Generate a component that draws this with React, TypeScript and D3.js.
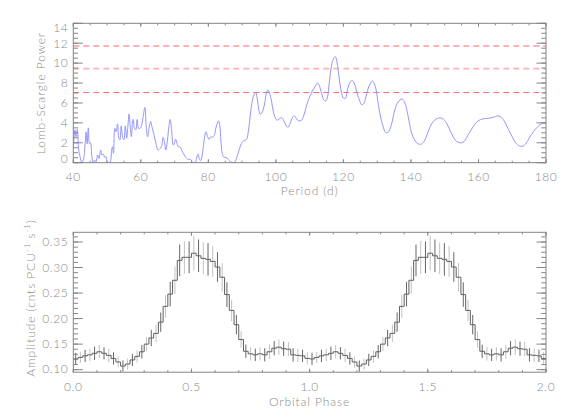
import React, { useEffect, useRef } from "react";
import * as d3 from "d3";

// Lomb-Scargle periodogram (top panel)
const periods = [
  40.0, 40.5, 40.8, 41.2, 41.6, 42.0, 42.5, 43.0, 43.5, 43.8, 44.1, 44.45, 44.8, 45.1, 45.5, 45.9,
  46.3, 46.7, 47.2, 47.6, 48.1, 48.5, 48.9, 49.3, 49.7, 50.1, 50.85, 51.35, 51.6, 51.9, 52.3, 52.7,
  53.1, 53.5, 53.8, 54.2, 54.6, 55.0, 55.4, 55.8, 56.2, 56.5, 56.9, 57.2, 57.5, 57.75, 58.1, 58.5,
  58.9, 59.3, 59.7, 60.1, 60.6, 61.2, 61.6, 62.0, 62.5, 62.9, 63.3, 63.9, 64.5, 65.1, 65.7, 66.1,
  66.6, 67.0, 67.4, 67.9, 68.3, 68.7, 69.1, 69.6, 69.9, 70.3, 70.7, 71.1, 71.6, 72.1, 72.55, 73.2,
  74.0, 74.7, 75.5, 76.1, 76.5, 76.9, 77.3, 77.7, 78.1, 78.5, 78.9, 79.3, 79.8, 80.25, 80.7, 81.2,
  81.8, 82.2, 82.6, 83.0, 83.4, 83.7, 84.1, 84.6, 85.2, 85.9, 86.6, 87.35, 87.9, 88.5, 89.1, 89.8,
  90.5, 91.3, 91.9, 92.5, 93.0, 93.5, 94.0, 94.4, 94.85, 95.3, 95.75, 96.2, 96.7, 97.2, 97.6, 98.1,
  98.7, 99.2, 99.7, 100.2, 100.7, 101.4, 101.9, 102.5, 103.1, 103.6, 104.1, 104.6, 105.3, 105.8,
  106.3, 107.0, 107.6, 108.2, 108.6, 109.3, 110.0, 110.8, 111.5, 112.3, 112.8, 113.5, 114.2, 114.8,
  115.3, 115.8, 116.5, 117.0, 117.6, 118.1, 118.7, 119.4, 120.0, 120.6, 121.2, 122.0, 122.7, 123.3,
  123.8, 124.7, 125.5, 126.1, 126.8, 127.6, 128.6, 129.3, 129.8, 130.6, 131.6, 132.5, 133.2, 134.2,
  135.2, 136.2, 137.4, 138.2, 139.2, 140.1, 141.1, 142.1, 143.1, 144.1, 145.1, 146.1, 147.3, 148.5,
  149.5, 150.5, 151.5, 152.5, 153.5, 155.0, 155.9, 157.2, 158.4, 159.9, 161.3, 162.8, 164.3, 165.8,
  166.8, 167.8, 168.7, 169.7, 171.0, 172.2, 173.2, 174.4, 175.6, 177.1, 178.6, 180.0
];
const powers = [
  1.6, 3.3, 2.6, 3.35, 1.3, 0.6, 0.0, 0.3, 1.9, 3.1, 1.9, 3.5, 1.9, 2.0, 0.6, 0.0,
  0.27, 0.0, 0.77, 0.43, 1.27, 0.77, 0.87, 0.54, 0.6, 0.0, 0.0, 1.27, 1.6, 0.93, 3.45, 3.1,
  3.9, 2.45, 2.3, 3.7, 2.6, 2.3, 3.7, 2.45, 3.8, 4.9, 3.45, 2.6, 3.95, 4.35, 3.45, 3.3,
  4.35, 3.45, 3.45, 3.6, 4.45, 5.56, 3.6, 2.6, 3.6, 4.15, 3.6, 2.8, 1.9, 1.27, 1.44, 1.6,
  2.55, 2.1, 1.27, 2.28, 3.6, 4.35, 3.3, 1.77, 1.94, 2.34, 1.94, 1.6, 1.6, 1.27, 0.94, 0.6,
  0.33, 0.33, 0.0, 0.0, 0.43, 0.87, 0.43, 0.2, 0.6, 1.6, 2.6, 3.1, 2.6, 2.34, 2.6, 2.55,
  2.8, 3.45, 3.9, 4.2, 3.7, 2.28, 0.94, 0.54, 0.54, 0.33, 0.1, 0.0, 0.1, 0.6, 1.27, 1.94,
  2.2, 2.35, 3.3, 5.0, 6.2, 6.8, 7.06, 6.6, 5.5, 4.9, 4.96, 5.3, 6.0, 7.0, 7.3, 7.0,
  6.2, 5.2, 4.6, 4.3, 4.3, 4.5, 4.5, 4.1, 3.7, 3.55, 3.85, 4.3, 4.7, 4.6,
  4.3, 4.2, 4.25, 4.7, 5.1, 6.0, 6.6, 7.2, 7.6, 8.0, 7.8, 7.0, 6.3, 6.2,
  6.6, 8.0, 9.8, 10.4, 10.65, 10.1, 8.6, 7.1, 6.5, 6.45, 7.3, 8.1, 8.25, 7.9,
  7.3, 6.3, 5.8, 6.0, 6.8, 7.7, 8.2, 7.8, 7.1, 5.3, 3.8, 3.05, 3.05, 3.8,
  5.3, 6.1, 6.4, 6.0, 4.6, 3.1, 2.28, 1.9, 1.88, 2.28, 3.1, 3.9, 4.35, 4.5,
  4.4, 4.0, 3.3, 2.6, 2.14, 2.0, 2.2, 2.95, 3.6, 4.2, 4.4, 4.45, 4.55, 4.7,
  4.55, 4.1, 3.45, 2.8, 2.0, 1.67, 1.67, 2.1, 2.8, 3.45, 3.9, 4.0
];
const significance = [11.72, 9.45, 7.05];
const significanceColors = ["#ffb2b2", "#ffb2b2", "#ff6e6e"];
const significanceWidths = [1.8, 1.8, 1.1];

// folded light curve (bottom panel), one cycle of 50 bins, drawn twice
const amplitude = [
  0.121, 0.124, 0.127, 0.129, 0.132, 0.135, 0.132, 0.128, 0.122, 0.115,
  0.107, 0.111, 0.119, 0.126, 0.135, 0.15, 0.162, 0.171, 0.193, 0.224,
  0.248, 0.275, 0.314, 0.32, 0.32, 0.328, 0.323, 0.318, 0.316, 0.312,
  0.301, 0.281, 0.247, 0.216, 0.188, 0.159, 0.136, 0.131, 0.129, 0.131,
  0.129, 0.135, 0.142, 0.144, 0.141, 0.14, 0.129, 0.128, 0.127, 0.122
];
const amplitudeErr = [
  0.012, 0.011, 0.012, 0.012, 0.013, 0.013, 0.012, 0.013, 0.012, 0.011,
  0.011, 0.011, 0.012, 0.012, 0.013, 0.014, 0.016, 0.017, 0.019, 0.022,
  0.024, 0.027, 0.031, 0.032, 0.031, 0.034, 0.032, 0.031, 0.032, 0.03,
  0.029, 0.028, 0.024, 0.021, 0.019, 0.016, 0.013, 0.013, 0.012, 0.013,
  0.013, 0.014, 0.014, 0.015, 0.014, 0.014, 0.013, 0.013, 0.012, 0.012
];
const cycles = 2;

const periodTicks = [40, 60, 80, 100, 120, 140, 160, 180];
const powerTicks = [0, 2, 4, 6, 8, 10, 12, 14];
const phaseTicks = [0, 0.5, 1.0, 1.5, 2.0];
const ampTicks = [0.1, 0.15, 0.2, 0.25, 0.3, 0.35];

const FONT = "Lato, 'Liberation Sans', Arial, sans-serif";
const WEIGHT = 300;
const TEXT = "#8a8a8a";
const AXIS = "#858585";

function drawFrame(g, x, y, opts) {
  const [x0, x1] = x.range();
  const [y0, y1] = y.range(); // y0 bottom, y1 top
  const { xMajor, xMinor, yMajor, yMinor, xFmt, yFmt } = opts;

  g.append("rect")
    .attr("x", x0)
    .attr("y", y1)
    .attr("width", x1 - x0)
    .attr("height", y0 - y1)
    .attr("fill", "none")
    .attr("stroke", AXIS)
    .attr("stroke-width", 1);

  const ticks = g.append("g").attr("stroke", AXIS).attr("stroke-width", 1);
  const xTick = (vals, len) => {
    vals.forEach((v) => {
      const px = x(v);
      ticks.append("line").attr("x1", px).attr("x2", px).attr("y1", y0).attr("y2", y0 - len);
      ticks.append("line").attr("x1", px).attr("x2", px).attr("y1", y1).attr("y2", y1 + len);
    });
  };
  const yTick = (vals, len) => {
    vals.forEach((v) => {
      const py = y(v);
      ticks.append("line").attr("x1", x0).attr("x2", x0 + len).attr("y1", py).attr("y2", py);
      ticks.append("line").attr("x1", x1).attr("x2", x1 - len).attr("y1", py).attr("y2", py);
    });
  };
  xTick(xMinor, 2);
  xTick(xMajor, 3.5);
  yTick(yMinor, 4.7);
  yTick(yMajor, 9.5);

  const labels = g
    .append("g")
    .attr("font-family", FONT)
    .attr("font-weight", WEIGHT)
    .attr("font-size", 12)
    .attr("letter-spacing", 0.6)
    .attr("fill", TEXT);

  labels
    .selectAll("text.xl")
    .data(xMajor)
    .join("text")
    .attr("x", (d) => x(d))
    .attr("y", y0 + 18.7)
    .attr("text-anchor", "middle")
    .text(xFmt);

  labels
    .selectAll("text.yl")
    .data(yMajor)
    .join("text")
    .attr("x", x0 - 5)
    .attr("y", (d) => Math.max(y1 + 4, Math.min(y0 - 4, y(d))))
    .attr("dy", "0.36em")
    .attr("text-anchor", "end")
    .text(yFmt);
}

export default function App() {
  const svgRef = useRef(null);

  useEffect(() => {
    const svg = d3.select(svgRef.current);
    svg.selectAll("*").remove();

    const left = 73.3;
    const right = 546;

    // ---------- top: periodogram ----------
    const xP = d3.scaleLinear().domain([40, 180]).range([left, right]);
    const yP = d3.scaleLinear().domain([0, 14]).range([162.7, 23.3]);
    const top = svg.append("g");

    top.append("clipPath")
      .attr("id", "clipTop")
      .append("rect")
      .attr("x", left)
      .attr("y", 23.3)
      .attr("width", right - left)
      .attr("height", 162.7 - 23.3);

    const sig = top.append("g").attr("clip-path", "url(#clipTop)");
    significance.forEach((s, i) => {
      sig.append("line")
        .attr("x1", left)
        .attr("x2", right)
        .attr("y1", yP(s))
        .attr("y2", yP(s))
        .attr("stroke", significanceColors[i])
        .attr("stroke-width", significanceWidths[i])
        .attr("stroke-dasharray", "6,4");
    });

    const line = d3
      .line()
      .x((d, i) => xP(periods[i]))
      .y((d) => yP(d))
      .curve(d3.curveCatmullRom.alpha(0.5));

    top.append("path")
      .attr("clip-path", "url(#clipTop)")
      .attr("d", line(powers))
      .attr("fill", "none")
      .attr("stroke", "#9494ff")
      .attr("stroke-width", 1);

    drawFrame(top, xP, yP, {
      xMajor: periodTicks,
      xMinor: d3.range(40, 181, 5),
      yMajor: powerTicks,
      yMinor: d3.range(0, 14.01, 0.5),
      xFmt: (d) => d3.format("d")(d),
      yFmt: (d) => d3.format("d")(d)
    });

    const titles = svg
      .append("g")
      .attr("font-family", FONT)
      .attr("font-weight", WEIGHT)
      .attr("font-size", 12)
      .attr("letter-spacing", 0.9)
      .attr("fill", TEXT);

    titles.append("text")
      .attr("x", (left + right) / 2)
      .attr("y", 195)
      .attr("text-anchor", "middle")
      .text("Period (d)");

    titles.append("text")
      .attr("transform", `translate(45,93) rotate(-90)`)
      .attr("text-anchor", "middle")
      .text("Lomb-Scargle Power");

    // ---------- bottom: folded light curve ----------
    const xF = d3.scaleLinear().domain([0, 2]).range([left, right]);
    const yF = d3.scaleLinear().domain([0.095, 0.369]).range([372.2, 232.3]);
    const bottom = svg.append("g");

    const nb = amplitude.length;
    const bins = [];
    for (let c = 0; c < cycles; c++) {
      amplitude.forEach((v, k) => {
        bins.push({ lo: c + k / nb, hi: c + (k + 1) / nb, v, e: amplitudeErr[k], k });
      });
    }

    bottom.append("g")
      .selectAll("line")
      .data(bins)
      .join("line")
      .attr("x1", (d) => xF((d.lo + d.hi) / 2))
      .attr("x2", (d) => xF((d.lo + d.hi) / 2))
      .attr("y1", (d) => yF(d.v - d.e))
      .attr("y2", (d) => yF(d.v + d.e))
      .attr("stroke", (d) => (d.k % 2 === 0 ? "#666" : "#c2c2c2"))
      .attr("stroke-width", 1);

    const stepPts = bins.map((d) => [d.lo, d.v]);
    stepPts.push([bins[bins.length - 1].hi, bins[bins.length - 1].v]);
    const step = d3
      .line()
      .x((d) => xF(d[0]))
      .y((d) => yF(d[1]))
      .curve(d3.curveStepAfter);

    bottom.append("path")
      .attr("d", step(stepPts))
      .attr("fill", "none")
      .attr("stroke", "#606060")
      .attr("stroke-width", 1);

    drawFrame(bottom, xF, yF, {
      xMajor: phaseTicks,
      xMinor: d3.range(0, 2.001, 0.1),
      yMajor: ampTicks,
      yMinor: d3.range(0.1, 0.3601, 0.01),
      xFmt: (d) => d3.format(".1f")(d),
      yFmt: (d) => d3.format(".2f")(d)
    });

    titles.append("text")
      .attr("x", (left + right) / 2)
      .attr("y", 406)
      .attr("text-anchor", "middle")
      .text("Orbital Phase");

    const amp = titles.append("text")
      .attr("transform", `translate(35,298) rotate(-90)`)
      .attr("text-anchor", "middle");
    amp.append("tspan").text("Amplitude (cnts PCU");
    amp.append("tspan").attr("font-size", 8).attr("dy", -5).text("-1");
    amp.append("tspan").attr("dy", 5).text(" s");
    amp.append("tspan").attr("font-size", 8).attr("dy", -5).text("-1");
    amp.append("tspan").attr("dy", 5).text(")");
  }, []);

  return (
    <svg
      ref={svgRef}
      width={568}
      height={419}
      style={{ position: "absolute", left: 0, top: 0, background: "#fff" }}
    />
  );
}
